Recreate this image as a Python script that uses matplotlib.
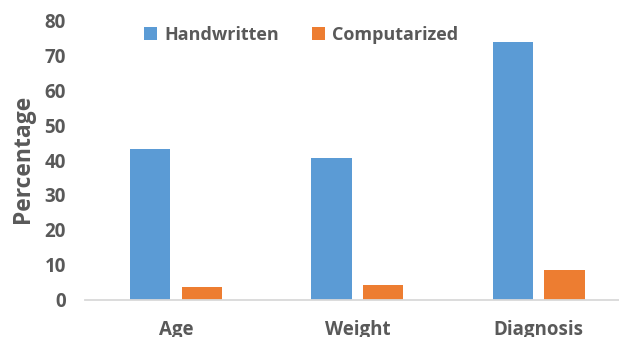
import matplotlib
matplotlib.use("Agg")
import matplotlib.pyplot as plt
import numpy as np
from matplotlib.patches import Patch

categories = ["Age", "Weight", "Diagnosis"]
series_names = ["Handwritten", "Computarized"]
handwritten = [43.1, 40.5, 73.7]
computarized = [3.7, 4.2, 8.4]
y_ticks = [0, 10, 20, 30, 40, 50, 60, 70, 80]

blue = "#5B9BD5"
orange = "#ED7D31"
text_gray = "#595959"

plt.rcParams["font.family"] = ["Open Sans", "DejaVu Sans"]
plt.rcParams["font.weight"] = "bold"

fig = plt.figure(figsize=(6.19, 3.37), dpi=100)
ax = fig.add_axes([85.4 / 619, 37.5 / 337, (629.3 - 85.4) / 619, 279 / 337])

x = np.arange(len(categories))
w = 0.223
off = 0.143
ax.bar(x - off, handwritten, width=w, color=blue)
ax.bar(x + off, computarized, width=w, color=orange)

ax.set_xlim(-0.5, 2.5)
ax.set_ylim(0, 80)
ax.set_yticks(y_ticks)
ax.set_xticks(x)
ax.set_xticklabels(categories)

for s in ["top", "right", "left"]:
    ax.spines[s].set_visible(False)
ax.spines["bottom"].set_color("#d9d9d9")
ax.spines["bottom"].set_linewidth(1.3)

ax.tick_params(axis="both", length=0, colors=text_gray, labelsize=13.5)
ax.tick_params(axis="x", pad=14.5)
ax.tick_params(axis="y", pad=14)
for lbl in ax.get_yticklabels() + ax.get_xticklabels():
    lbl.set_fontweight("bold")
    lbl.set_color(text_gray)

fig.text(23 / 619, 1 - 159 / 337, "Percentage", rotation=90, ha="center", va="center",
         fontsize=16.5, fontweight="bold", color=text_gray)

handles = [Patch(facecolor=blue, edgecolor="none"), Patch(facecolor=orange, edgecolor="none")]
leg = fig.legend(handles, series_names, loc="center", bbox_to_anchor=(301 / 619, 1 - 35 / 337),
                 ncol=2, frameon=False, handlelength=0.75, handleheight=0.75, handletextpad=0.4,
                 columnspacing=1.8, prop={"size": 13, "weight": "bold"})
for t in leg.get_texts():
    t.set_color(text_gray)

fig.savefig("out.png", dpi=100)
